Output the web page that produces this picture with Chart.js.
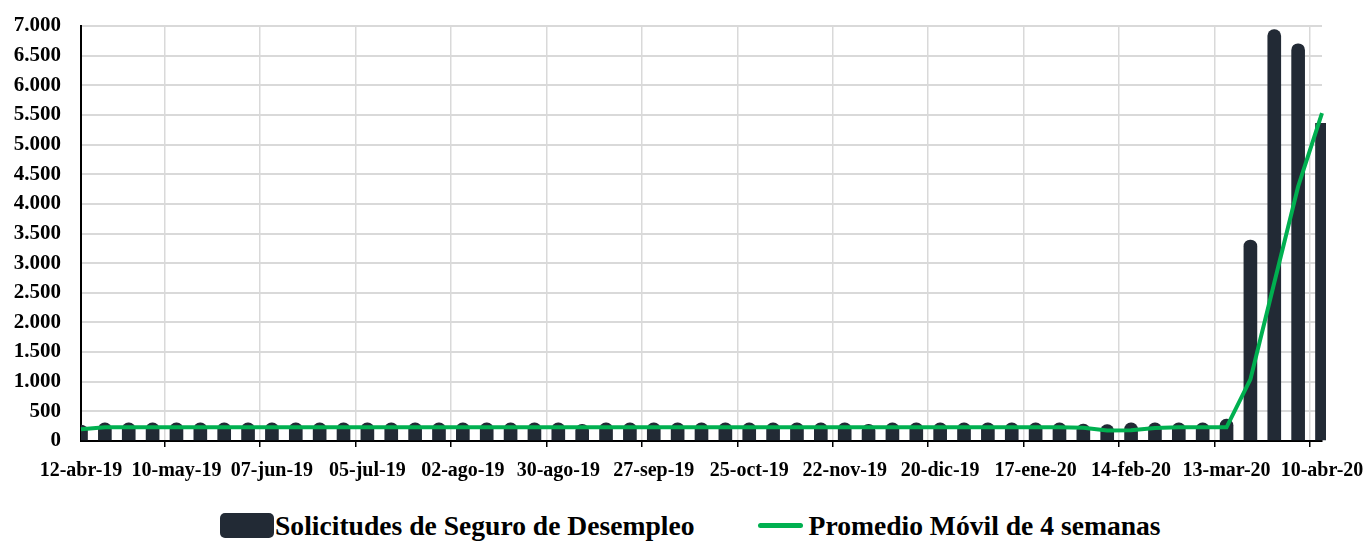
<!DOCTYPE html>
<html>
<head>
<meta charset="utf-8">
<script src="https://cdn.jsdelivr.net/npm/chart.js@4.4.1/dist/chart.umd.min.js"></script>
<style>
  body { margin: 0; background: #fff; }
  #wrap { position: relative; width: 1368px; height: 541px; overflow: hidden; }
  #chartBox { position: absolute; left: 0; top: 0; width: 1368px; height: 490px; }
  #legend {
    position: absolute; left: 220px; top: 509px; height: 33px;
    display: flex; align-items: center;
    font-family: 'Liberation Serif', serif; font-weight: bold; font-size: 27.6px; color: #000;
    white-space: nowrap;
  }
  .box { width: 54px; height: 25px; border-radius: 5px; background: #222a35; margin-right: 1px; }
  .line { width: 45px; height: 5px; border-radius: 3px; background: #00b050; margin-left: 63px; margin-right: 6px; }
</style>
</head>
<body>
<div id="wrap">
  <div id="chartBox"><canvas id="chart"></canvas></div>
  <div id="legend">
    <span class="box"></span><span>Solicitudes de Seguro de Desempleo</span>
    <span class="line"></span><span>Promedio Móvil de 4 semanas</span>
  </div>
</div>
<script>
const categories = [
  '12-abr-19', '19-abr-19', '26-abr-19', '03-may-19', '10-may-19', '17-may-19', '24-may-19', '31-may-19',
  '07-jun-19', '14-jun-19', '21-jun-19', '28-jun-19', '05-jul-19', '12-jul-19', '19-jul-19', '26-jul-19',
  '02-ago-19', '09-ago-19', '16-ago-19', '23-ago-19', '30-ago-19', '06-sep-19', '13-sep-19', '20-sep-19',
  '27-sep-19', '04-oct-19', '11-oct-19', '18-oct-19', '25-oct-19', '01-nov-19', '08-nov-19', '15-nov-19',
  '22-nov-19', '29-nov-19', '06-dic-19', '13-dic-19', '20-dic-19', '27-dic-19', '03-ene-20', '10-ene-20',
  '17-ene-20', '24-ene-20', '31-ene-20', '07-feb-20', '14-feb-20', '21-feb-20', '28-feb-20', '06-mar-20',
  '13-mar-20', '20-mar-20', '27-mar-20', '03-abr-20', '10-abr-20'
];

const tickLabels = [
  '12-abr-19', '10-may-19', '07-jun-19', '05-jul-19', '02-ago-19', '30-ago-19', '27-sep-19',
  '25-oct-19', '22-nov-19', '20-dic-19', '17-ene-20', '14-feb-20', '13-mar-20', '10-abr-20'
];

// Solicitudes de Seguro de Desempleo (semanal)
const solicitudes = [
  270, 305, 305, 305, 305, 305, 305, 305, 305, 305,
  305, 305, 305, 305, 305, 305, 305, 305, 305, 305,
  305, 280, 305, 305, 305, 305, 305, 305, 305, 305,
  305, 305, 305, 280, 305, 305, 305, 305, 305, 305,
  305, 305, 285, 275, 305, 305, 305, 305, 370, 3390,
  6940, 6700, 5360
];

// Promedio Móvil de 4 semanas
const promedio = [
  197, 231, 231, 231, 231, 231, 231, 231, 231, 231,
  231, 231, 231, 231, 231, 231, 231, 231, 231, 231,
  231, 231, 231, 231, 231, 231, 231, 231, 231, 231,
  231, 231, 231, 231, 231, 231, 231, 231, 231, 231,
  231, 231, 225, 178, 180, 218, 231, 231, 231, 1039,
  2670, 4293, 5529
];

const BAR_COLOR = '#222a35';
const LINE_COLOR = '#00b050';
const GRID_COLOR = '#d9d9d9';

Chart.defaults.font.family = "'Liberation Serif', serif";
Chart.defaults.font.weight = 'bold';
Chart.defaults.font.size = 20;
Chart.defaults.color = '#000';

const lastIndex = solicitudes.length - 1;

new Chart(document.getElementById('chart').getContext('2d'), {
  type: 'bar',
  data: {
    labels: categories,
    datasets: [
      {
        type: 'bar',
        label: 'Solicitudes de Seguro de Desempleo',
        data: solicitudes,
        backgroundColor: BAR_COLOR,
        barThickness: 13,
        borderRadius: ctx => ctx.dataIndex === lastIndex ? 0 : { topLeft: 6.5, topRight: 6.5, bottomLeft: 0, bottomRight: 0 },
        borderSkipped: 'bottom',
        clip: { left: 0, top: false, right: 4, bottom: 0 },
        order: 1
      },
      {
        type: 'line',
        label: 'Promedio Móvil de 4 semanas',
        data: promedio,
        borderColor: LINE_COLOR,
        borderWidth: 4,
        pointRadius: 0,
        tension: 0,
        fill: false,
        order: 0
      }
    ]
  },
  options: {
    responsive: true,
    maintainAspectRatio: false,
    animation: false,
    layout: { padding: { top: 26, right: 46, left: 0, bottom: 0 } },
    plugins: {
      legend: { display: false },
      tooltip: { enabled: false }
    },
    scales: {
      x: {
        type: 'category',
        offset: false,
        afterFit: scale => { scale.height = 49; },
        border: { display: true, color: '#000', width: 2 },
        grid: {
          color: ctx => ctx.index % 4 === 0 ? GRID_COLOR : 'rgba(0,0,0,0)',
          lineWidth: 1.5,
          drawTicks: true,
          tickLength: 6,
          tickColor: ctx => ctx.index % 4 === 0 ? '#000' : 'rgba(0,0,0,0)',
          tickWidth: 1.5
        },
        ticks: {
          autoSkip: false,
          maxRotation: 0,
          minRotation: 0,
          padding: 0,
          font: { lineHeight: 2.35 },
          callback: function (value) {
            const label = this.getLabelForValue(value);
            return tickLabels.includes(label) ? label : '';
          }
        }
      },
      y: {
        min: 0,
        max: 7000,
        afterFit: scale => { scale.width = 81; },
        border: { display: true, color: '#000', width: 2 },
        grid: { color: GRID_COLOR, lineWidth: 2, drawTicks: true, tickLength: 20, tickColor: 'rgba(0,0,0,0)' },
        ticks: {
          stepSize: 500,
          padding: 0,
          font: { size: 21 },
          callback: value => String(value).replace(/\B(?=(\d{3})+(?!\d))/g, '.')
        }
      }
    }
  }
});
</script>
</body>
</html>
